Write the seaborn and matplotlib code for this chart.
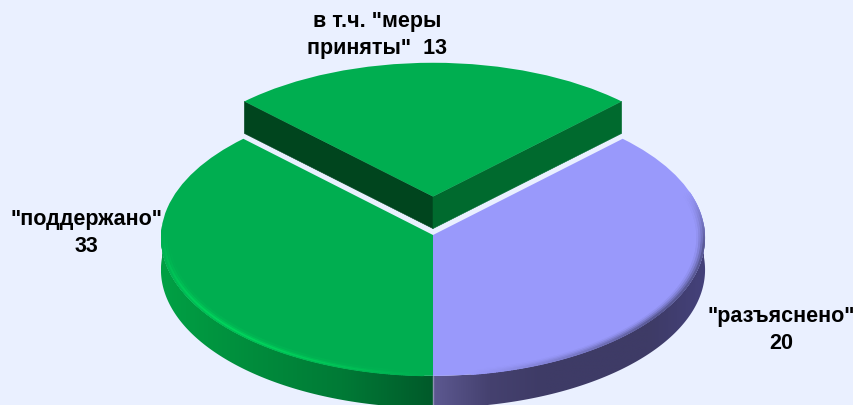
import numpy as np
import matplotlib
matplotlib.use('Agg')
import matplotlib.pyplot as plt
import matplotlib.colors as mc
from matplotlib.collections import LineCollection
from matplotlib.patches import Polygon
from matplotlib.transforms import Transform
import seaborn as sns

# slice shares as they are drawn in the picture (labels carry their own numbers)
slice_names = ['меры приняты', 'поддержано', 'разъяснено']
slice_shares = [25, 37.5, 37.5]
slice_explode = [0.28, 0, 0]
top_colors = ['#00ae50', '#00ae50', '#9999fb']
bg_color = '#eaf0ff'


class Tilt(Transform):
    input_dims = 2
    output_dims = 2
    is_separable = False
    has_inverse = False

    def transform_non_affine(self, values):
        values = np.asarray(values, dtype=float)
        w = 1 + 0.02 * values[:, 1]
        return np.column_stack([272 * values[:, 0] / w, 138 * values[:, 1] / w])


sns.set_theme(style='white')
plt.rcParams['font.family'] = ['Liberation Sans', 'DejaVu Sans']

fig = plt.figure(figsize=(8.54, 4.05), dpi=100, facecolor=bg_color)
ax = fig.add_axes([0, 0, 1, 1])
tilt = Tilt()
depth = 32


def to_px(theta, r=1.0, shift=0.0):
    t = np.radians(theta)
    pts = np.column_stack([r * np.cos(t), r * np.sin(t) + shift])
    return tilt.transform(pts)


def draw_rim(a1, a2, colors):
    arc = to_px(np.linspace(a1, a2, 200))
    low = arc[::-1] - [0, depth]
    poly = Polygon(np.vstack([arc, low]), closed=True, fc='none', ec='none')
    ax.add_patch(poly)
    x0, x1 = arc[:, 0].min(), arc[:, 0].max()
    grad = np.array(colors)[None, :, :]
    im = ax.imshow(grad, extent=[x0, x1, low[:, 1].min(), arc[:, 1].max()],
                   aspect='auto', interpolation='bilinear', zorder=1)
    im.set_clip_path(poly)


def draw_bevel(th, weight_fn, base, edge, bands):
    for r, k in bands:
        p = to_px(th, r)
        segs = np.stack([p[:-1], p[1:]], axis=1)
        weight = k * weight_fn(th[:-1])
        cols = base + (edge - base) * weight[:, None]
        ax.add_collection(LineCollection(segs, colors=cols, linewidths=1.5,
                                         capstyle='round', zorder=4))


wedges, _ = ax.pie(slice_shares, explode=slice_explode, colors=top_colors,
                   startangle=45, counterclock=True)
for w in wedges:
    w.set_transform(tilt + ax.transData)
    w.set_zorder(3)
    w.set_linewidth(0)

# round sides of the two front slices, shaded left to right
split = 45 + sum(slice_shares[:2]) / sum(slice_shares) * 360
draw_rim(176, split, sns.blend_palette(['#00a044', '#008c3c', '#007a36', '#005a2a'], 64))
draw_rim(split, 364, sns.blend_palette(['#5c5890', '#45416f', '#3e3b66', '#3e3b66', '#3e3b66', '#44417a'], 64))

# flat cut faces of the pulled out slice
a_left = 45 + slice_shares[0] / sum(slice_shares) * 360
a_right = 45.0
for ang, col in [(a_left, '#00451e'), (a_right, '#006a2e')]:
    tip = to_px(np.array([90.0]), 0.0, slice_explode[0])[0]
    t = np.radians(ang)
    corner = tilt.transform(np.array([[np.cos(t), np.sin(t) + slice_explode[0]]]))[0]
    face = np.array([tip, corner, corner - [0, depth], tip - [0, depth]])
    ax.fill(face[:, 0], face[:, 1], color=col, lw=0.4, zorder=2)

# thin light seam between the two front sides
seam = to_px(np.array([split]))[0]
ax.plot([seam[0], seam[0]], [seam[1], seam[1] - depth], color='#8f8fb4', lw=1, zorder=2)

# soft bevel along the top edge
green = np.array(mc.to_rgb(top_colors[1]))
light = np.array(mc.to_rgb('#00d45c'))
purple = np.array(mc.to_rgb(top_colors[2]))
dark = np.array(mc.to_rgb('#5a5a96'))

draw_bevel(np.linspace(178, split - 2, 200),
           lambda t: np.clip(np.sin(np.radians(t - 178) * 1.95), 0, 1) ** 1.2,
           green, light, [(0.996, 0.45), (0.988, 1.0), (0.979, 0.5), (0.97, 0.15)])
draw_bevel(np.linspace(split + 8, 378, 220),
           lambda t: np.clip((t - split - 8) / 45, 0, 1) * np.clip((378 - t) / 22, 0, 1),
           purple, dark, [(0.972, 0.12), (0.98, 0.35), (0.988, 0.65), (0.996, 1.0)])

ax.set_aspect('auto')
ax.set_xlim(-433, 421)
ax.set_ylim(-170, 235)
ax.axis('off')

label_style = dict(ha='center', va='center', fontsize=15.5, fontweight='bold',
                   color='black', linespacing=1.42, zorder=5)
ax.text(-56, 200, 'в т.ч. "меры\nприняты"  13', **label_style)
ax.text(-347, 2, '"поддержано"\n33', **label_style)
ax.text(348, -95, '"разъяснено"\n20', **label_style)

fig.savefig('out.png', dpi=100, facecolor=bg_color)
